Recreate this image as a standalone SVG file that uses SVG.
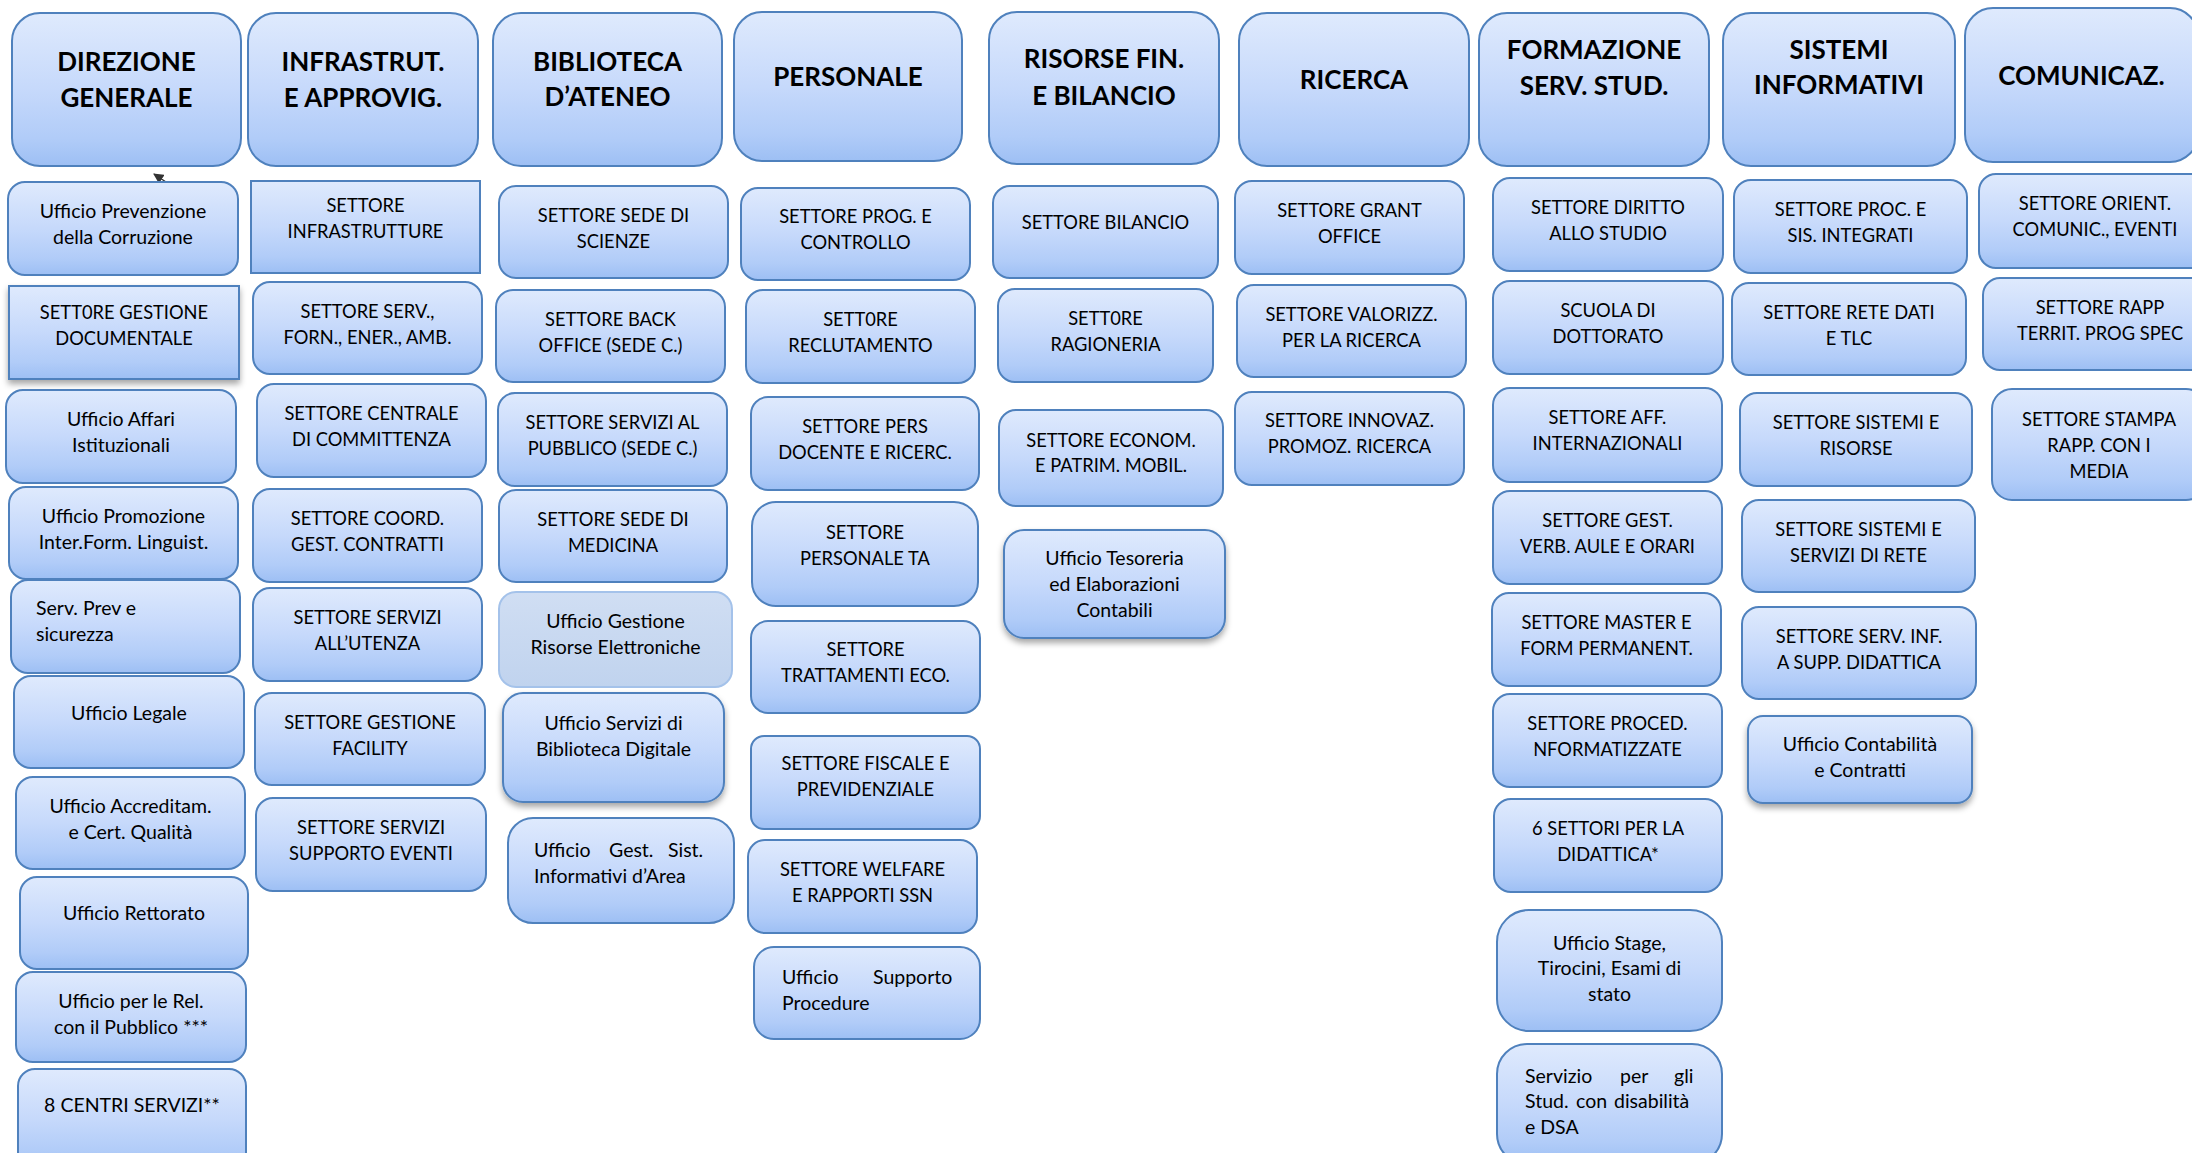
<svg xmlns="http://www.w3.org/2000/svg" width="2192" height="1153" viewBox="0 0 2192 1153">
<defs>
<linearGradient id="g" x1="0" y1="0" x2="0" y2="1">
<stop offset="0" stop-color="#dfeafd"/>
<stop offset="0.5" stop-color="#c6d9fb"/>
<stop offset="0.82" stop-color="#b1ccf8"/>
<stop offset="1" stop-color="#9dbff4"/>
</linearGradient>
<linearGradient id="gl" x1="0" y1="0" x2="0" y2="1">
<stop offset="0" stop-color="#d0def3"/>
<stop offset="1" stop-color="#c0d3ee"/>
</linearGradient>
<filter id="sh" x="-10%" y="-10%" width="120%" height="130%">
<feDropShadow dx="0" dy="4" stdDeviation="3" flood-color="#000" flood-opacity="0.35"/>
</filter>
<marker id="ah" viewBox="0 0 10 10" refX="9" refY="5" markerWidth="8" markerHeight="8" orient="auto-start-reverse">
<path d="M0,0 L10,5 L0,10 z" fill="#333"/>
</marker>
</defs>
<style>
.b{fill:url(#g);stroke:#4f81bd;stroke-width:2}
.bl{fill:url(#gl);stroke:#a4c2ea;stroke-width:2}
.s{filter:url(#sh)}
.t{font-family:Lato,'Liberation Sans',sans-serif;font-size:18.3px;fill:#000;text-anchor:middle}
.m{font-size:19.5px}
.h{font-family:Lato,'Liberation Sans',sans-serif;font-size:26px;font-weight:700;fill:#000;text-anchor:middle}
.l{text-anchor:start}
</style>
<rect width="2192" height="1153" fill="#fff"/>

<g id="connectors">
<path d="M166,182 L154,174" stroke="#333" stroke-width="1.3" fill="none" marker-end="url(#ah)"/>
</g>

<!-- Column 1 -->
<g id="dir-generale"><rect class="b" x="12" y="13" width="229" height="153" rx="28"/><text class="h" x="126.5" y="71">DIREZIONE</text><text class="h" x="126.5" y="107">GENERALE</text></g>
<g id="uff-prevenzione"><rect class="b" x="8" y="182" width="230" height="93" rx="17"/><text class="t m" x="123" y="218">Ufficio Prevenzione</text><text class="t m" x="123" y="244">della Corruzione</text></g>
<g id="sett-gest-doc"><rect class="b s" x="9" y="286" width="230" height="93"/><text class="t" x="124" y="319">SETT0RE GESTIONE</text><text class="t" x="124" y="345">DOCUMENTALE</text></g>
<g id="uff-affari"><rect class="b" x="6" y="390" width="230" height="93" rx="17"/><text class="t m" x="121" y="426">Ufficio Affari</text><text class="t m" x="121" y="452">Istituzionali</text></g>
<g id="uff-promozione"><rect class="b" x="9" y="487" width="229" height="92" rx="17"/><text class="t m" x="123.5" y="523">Ufficio Promozione</text><text class="t m" x="123.5" y="549">Inter.Form. Linguist.</text></g>
<g id="serv-prev"><rect class="b" x="11" y="580" width="229" height="93" rx="17"/><text class="t m l" x="36" y="615">Serv. Prev e</text><text class="t m l" x="36" y="641">sicurezza</text></g>
<g id="uff-legale"><rect class="b" x="14" y="676" width="230" height="92" rx="17"/><text class="t m" x="129" y="720">Ufficio Legale</text></g>
<g id="uff-accreditam"><rect class="b" x="16" y="777" width="229" height="92" rx="17"/><text class="t m" x="130.5" y="813">Ufficio Accreditam.</text><text class="t m" x="130.5" y="839">e Cert. Qualità</text></g>
<g id="uff-rettorato"><rect class="b" x="20" y="877" width="228" height="92" rx="17"/><text class="t m" x="134" y="920">Ufficio Rettorato</text></g>
<g id="uff-rel-pubblico"><rect class="b" x="16" y="972" width="230" height="90" rx="17"/><text class="t m" x="131" y="1008">Ufficio per le Rel.</text><text class="t m" x="131" y="1034">con il Pubblico ***</text></g>
<g id="centri-servizi"><rect class="b" x="18" y="1069" width="228" height="100" rx="17"/><text class="t m" x="132" y="1112">8 CENTRI SERVIZI**</text></g>

<!-- Column 2 -->
<g id="infrastrut"><rect class="b" x="248" y="13" width="230" height="153" rx="28"/><text class="h" x="363" y="71">INFRASTRUT.</text><text class="h" x="363" y="107">E APPROVIG.</text></g>
<g id="sett-infrastrutture"><rect class="b" x="251" y="181" width="229" height="92"/><text class="t" x="365.5" y="212">SETTORE</text><text class="t" x="365.5" y="238">INFRASTRUTTURE</text></g>
<g id="sett-serv-forn"><rect class="b" x="253" y="282" width="229" height="92" rx="17"/><text class="t" x="367.5" y="318">SETTORE SERV.,</text><text class="t" x="367.5" y="344">FORN., ENER., AMB.</text></g>
<g id="sett-centrale"><rect class="b" x="257" y="384" width="229" height="93" rx="17"/><text class="t" x="371.5" y="420">SETTORE CENTRALE</text><text class="t" x="371.5" y="446">DI COMMITTENZA</text></g>
<g id="sett-coord"><rect class="b" x="253" y="489" width="229" height="93" rx="17"/><text class="t" x="367.5" y="525">SETTORE COORD.</text><text class="t" x="367.5" y="551">GEST. CONTRATTI</text></g>
<g id="sett-utenza"><rect class="b" x="253" y="588" width="229" height="93" rx="17"/><text class="t" x="367.5" y="624">SETTORE SERVIZI</text><text class="t" x="367.5" y="650">ALL’UTENZA</text></g>
<g id="sett-facility"><rect class="b" x="255" y="693" width="230" height="92" rx="17"/><text class="t" x="370" y="729">SETTORE GESTIONE</text><text class="t" x="370" y="755">FACILITY</text></g>
<g id="sett-eventi"><rect class="b" x="256" y="798" width="230" height="93" rx="17"/><text class="t" x="371" y="834">SETTORE SERVIZI</text><text class="t" x="371" y="860">SUPPORTO EVENTI</text></g>

<!-- Column 3 -->
<g id="biblioteca"><rect class="b" x="493" y="13" width="229" height="153" rx="28"/><text class="h" x="607.5" y="71">BIBLIOTECA</text><text class="h" x="607.5" y="106">D’ATENEO</text></g>
<g id="sett-scienze"><rect class="b" x="499" y="186" width="229" height="92" rx="17"/><text class="t" x="613.5" y="222">SETTORE SEDE DI</text><text class="t" x="613.5" y="248">SCIENZE</text></g>
<g id="sett-back-office"><rect class="b" x="496" y="290" width="229" height="92" rx="17"/><text class="t" x="610.5" y="326">SETTORE BACK</text><text class="t" x="610.5" y="352">OFFICE (SEDE C.)</text></g>
<g id="sett-pubblico"><rect class="b" x="498" y="393" width="229" height="93" rx="17"/><text class="t" x="612.5" y="429">SETTORE SERVIZI AL</text><text class="t" x="612.5" y="455">PUBBLICO (SEDE C.)</text></g>
<g id="sett-medicina"><rect class="b" x="499" y="490" width="228" height="92" rx="17"/><text class="t" x="613" y="526">SETTORE SEDE DI</text><text class="t" x="613" y="552">MEDICINA</text></g>
<g id="uff-risorse-elettr"><rect class="bl" x="499" y="592" width="233" height="95" rx="17"/><text class="t m" x="615.5" y="628">Ufficio Gestione</text><text class="t m" x="615.5" y="654">Risorse Elettroniche</text></g>
<g id="uff-bib-digitale"><rect class="b s" x="503" y="693" width="221" height="109" rx="20"/><text class="t m" x="613.5" y="730">Ufficio Servizi di</text><text class="t m" x="613.5" y="756">Biblioteca Digitale</text></g>
<g id="uff-sist-area"><rect class="b" x="508" y="818" width="226" height="105" rx="25"/><text class="t m l" y="857"><tspan x="534">Ufficio</tspan><tspan x="609">Gest.</tspan><tspan x="668">Sist.</tspan></text><text class="t m l" x="534" y="883">Informativi d’Area</text></g>

<!-- Column 4 -->
<g id="personale"><rect class="b" x="734" y="12" width="228" height="149" rx="28"/><text class="h" x="848" y="86">PERSONALE</text></g>
<g id="sett-prog"><rect class="b" x="741" y="188" width="229" height="92" rx="17"/><text class="t" x="855.5" y="223">SETTORE PROG. E</text><text class="t" x="855.5" y="249">CONTROLLO</text></g>
<g id="sett-reclutamento"><rect class="b" x="746" y="290" width="229" height="93" rx="17"/><text class="t" x="860.5" y="326">SETT0RE</text><text class="t" x="860.5" y="352">RECLUTAMENTO</text></g>
<g id="sett-docente"><rect class="b" x="751" y="397" width="228" height="93" rx="17"/><text class="t" x="865" y="433">SETTORE PERS</text><text class="t" x="865" y="459">DOCENTE E RICERC.</text></g>
<g id="sett-pers-ta"><rect class="b" x="752" y="502" width="226" height="104" rx="24"/><text class="t" x="865" y="539">SETTORE</text><text class="t" x="865" y="565">PERSONALE TA</text></g>
<g id="sett-trattamenti"><rect class="b" x="751" y="621" width="229" height="92" rx="17"/><text class="t" x="865.5" y="656">SETTORE</text><text class="t" x="865.5" y="682">TRATTAMENTI ECO.</text></g>
<g id="sett-fiscale"><rect class="b" x="751" y="736" width="229" height="93" rx="13"/><text class="t" x="865.5" y="770">SETTORE FISCALE E</text><text class="t" x="865.5" y="796">PREVIDENZIALE</text></g>
<g id="sett-welfare"><rect class="b" x="748" y="840" width="229" height="93" rx="17"/><text class="t" x="862.5" y="876">SETTORE WELFARE</text><text class="t" x="862.5" y="902">E RAPPORTI SSN</text></g>
<g id="uff-supporto"><rect class="b" x="754" y="947" width="226" height="92" rx="20"/><text class="t m l" y="984"><tspan x="782">Ufficio</tspan><tspan x="873">Supporto</tspan></text><text class="t m l" x="782" y="1010">Procedure</text></g>

<!-- Column 5 -->
<g id="risorse-fin"><rect class="b" x="989" y="12" width="230" height="152" rx="28"/><text class="h" x="1104" y="68">RISORSE FIN.</text><text class="h" x="1104" y="105">E BILANCIO</text></g>
<g id="sett-bilancio"><rect class="b" x="993" y="186" width="225" height="92" rx="17"/><text class="t" x="1105.5" y="229">SETTORE BILANCIO</text></g>
<g id="sett-ragioneria"><rect class="b" x="998" y="289" width="215" height="93" rx="17"/><text class="t" x="1105.5" y="325">SETT0RE</text><text class="t" x="1105.5" y="351">RAGIONERIA</text></g>
<g id="sett-econom"><rect class="b" x="999" y="410" width="224" height="96" rx="17"/><text class="t" x="1111" y="447">SETTORE ECONOM.</text><text class="t" x="1111" y="472">E PATRIM. MOBIL.</text></g>
<g id="uff-tesoreria"><rect class="b s" x="1004" y="530" width="221" height="108" rx="20"/><text class="t m" x="1114.5" y="565">Ufficio Tesoreria</text><text class="t m" x="1114.5" y="591">ed Elaborazioni</text><text class="t m" x="1114.5" y="617">Contabili</text></g>

<!-- Column 6 -->
<g id="ricerca"><rect class="b" x="1239" y="13" width="230" height="153" rx="28"/><text class="h" x="1354" y="89">RICERCA</text></g>
<g id="sett-grant"><rect class="b" x="1235" y="181" width="229" height="93" rx="17"/><text class="t" x="1349.5" y="217">SETTORE GRANT</text><text class="t" x="1349.5" y="243">OFFICE</text></g>
<g id="sett-valorizz"><rect class="b" x="1237" y="285" width="229" height="92" rx="17"/><text class="t" x="1351.5" y="321">SETTORE VALORIZZ.</text><text class="t" x="1351.5" y="347">PER LA RICERCA</text></g>
<g id="sett-innovaz"><rect class="b" x="1235" y="392" width="229" height="93" rx="17"/><text class="t" x="1349.5" y="427">SETTORE INNOVAZ.</text><text class="t" x="1349.5" y="453">PROMOZ. RICERCA</text></g>

<!-- Column 7 -->
<g id="formazione"><rect class="b" x="1479" y="13" width="230" height="153" rx="28"/><text class="h" x="1594" y="59">FORMAZIONE</text><text class="h" x="1594" y="95">SERV. STUD.</text></g>
<g id="sett-diritto"><rect class="b" x="1493" y="178" width="230" height="93" rx="17"/><text class="t" x="1608" y="214">SETTORE DIRITTO</text><text class="t" x="1608" y="240">ALLO STUDIO</text></g>
<g id="scuola-dottorato"><rect class="b" x="1493" y="281" width="230" height="93" rx="17"/><text class="t" x="1608" y="317">SCUOLA DI</text><text class="t" x="1608" y="343">DOTTORATO</text></g>
<g id="sett-aff-int"><rect class="b" x="1493" y="388" width="229" height="94" rx="17"/><text class="t" x="1607.5" y="424">SETTORE AFF.</text><text class="t" x="1607.5" y="450">INTERNAZIONALI</text></g>
<g id="sett-verb"><rect class="b" x="1493" y="491" width="229" height="93" rx="17"/><text class="t" x="1607.5" y="527">SETTORE GEST.</text><text class="t" x="1607.5" y="553">VERB. AULE E ORARI</text></g>
<g id="sett-master"><rect class="b" x="1492" y="593" width="229" height="93" rx="17"/><text class="t" x="1606.5" y="629">SETTORE MASTER E</text><text class="t" x="1606.5" y="655">FORM PERMANENT.</text></g>
<g id="sett-proced"><rect class="b" x="1493" y="694" width="229" height="93" rx="17"/><text class="t" x="1607.5" y="730">SETTORE PROCED.</text><text class="t" x="1607.5" y="756">NFORMATIZZATE</text></g>
<g id="settori-didattica"><rect class="b" x="1494" y="799" width="228" height="93" rx="17"/><text class="t" x="1608" y="835">6 SETTORI PER LA</text><text class="t" x="1608" y="861">DIDATTICA*</text></g>
<g id="uff-stage"><rect class="b" x="1497" y="910" width="225" height="121" rx="32"/><text class="t m" x="1609.5" y="950">Ufficio Stage,</text><text class="t m" x="1609.5" y="975">Tirocini, Esami di</text><text class="t m" x="1609.5" y="1001">stato</text></g>
<g id="serv-disabilita"><rect class="b" x="1497" y="1044" width="225" height="120" rx="30"/><text class="t m l" y="1083"><tspan x="1525">Servizio</tspan><tspan x="1620">per</tspan><tspan x="1674">gli</tspan></text><text class="t m l" y="1108"><tspan x="1525">Stud.</tspan><tspan x="1576">con</tspan><tspan x="1614">disabilità</tspan></text><text class="t m l" x="1525" y="1134">e DSA</text></g>

<!-- Column 8 -->
<g id="sistemi-inf"><rect class="b" x="1723" y="13" width="232" height="153" rx="28"/><text class="h" x="1839" y="59">SISTEMI</text><text class="h" x="1839" y="94">INFORMATIVI</text></g>
<g id="sett-proc-sis"><rect class="b" x="1734" y="180" width="233" height="93" rx="17"/><text class="t" x="1850.5" y="216">SETTORE PROC. E</text><text class="t" x="1850.5" y="242">SIS. INTEGRATI</text></g>
<g id="sett-rete-dati"><rect class="b" x="1732" y="283" width="234" height="92" rx="17"/><text class="t" x="1849" y="319">SETTORE RETE DATI</text><text class="t" x="1849" y="345">E TLC</text></g>
<g id="sett-sist-risorse"><rect class="b" x="1740" y="393" width="232" height="93" rx="17"/><text class="t" x="1856" y="429">SETTORE SISTEMI E</text><text class="t" x="1856" y="455">RISORSE</text></g>
<g id="sett-sist-rete"><rect class="b" x="1742" y="500" width="233" height="92" rx="17"/><text class="t" x="1858.5" y="536">SETTORE SISTEMI E</text><text class="t" x="1858.5" y="562">SERVIZI DI RETE</text></g>
<g id="sett-serv-inf"><rect class="b" x="1742" y="607" width="234" height="92" rx="17"/><text class="t" x="1859" y="643">SETTORE SERV. INF.</text><text class="t" x="1859" y="669">A SUPP. DIDATTICA</text></g>
<g id="uff-contabilita"><rect class="b s" x="1748" y="716" width="224" height="87" rx="15"/><text class="t m" x="1860" y="751">Ufficio Contabilità</text><text class="t m" x="1860" y="777">e Contratti</text></g>

<!-- Column 9 -->
<g id="comunicaz"><rect class="b" x="1965" y="8" width="233" height="154" rx="28"/><text class="h" x="2081.5" y="85">COMUNICAZ.</text></g>
<g id="sett-orient"><rect class="b" x="1979" y="174" width="232" height="94" rx="17"/><text class="t" x="2095" y="210">SETTORE ORIENT.</text><text class="t" x="2095" y="236">COMUNIC., EVENTI</text></g>
<g id="sett-rapp-territ"><rect class="b" x="1983" y="278" width="234" height="92" rx="17"/><text class="t" x="2100" y="314">SETTORE RAPP</text><text class="t" x="2100" y="340">TERRIT. PROG SPEC</text></g>
<g id="sett-stampa"><rect class="b" x="1992" y="389" width="214" height="111" rx="20"/><text class="t" x="2099" y="426">SETTORE STAMPA</text><text class="t" x="2099" y="452">RAPP. CON I</text><text class="t" x="2099" y="478">MEDIA</text></g>
</svg>
